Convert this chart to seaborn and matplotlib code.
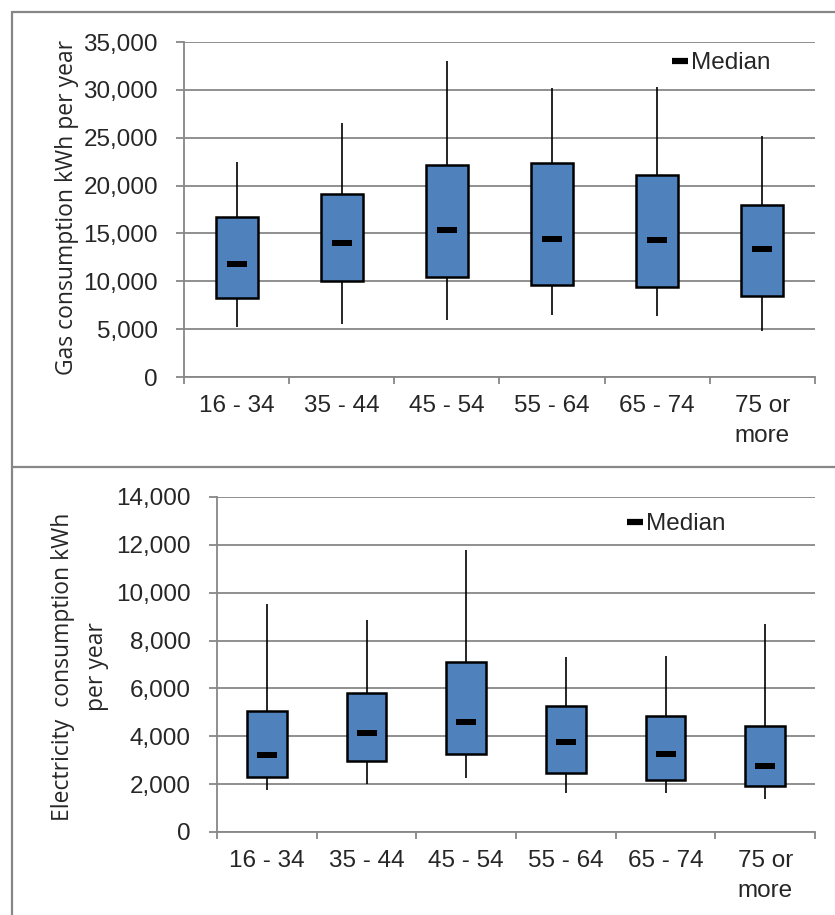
import numpy as np
import pandas as pd
import seaborn as sns
import matplotlib.pyplot as plt
from matplotlib.lines import Line2D
from matplotlib.ticker import StrMethodFormatter, FixedLocator

# Age bands of the household reference person
AGE_GROUPS = ["16 - 34", "35 - 44", "45 - 54", "55 - 64", "65 - 74", "75 or\nmore"]

# Gas consumption (kWh per year): lower whisker, Q1, median, Q3, upper whisker
GAS_LOW = [5200, 5500, 6000, 6500, 6400, 4850]
GAS_Q1 = [8300, 10000, 10450, 9600, 9450, 8500]
GAS_MEDIAN = [11850, 14000, 15400, 14400, 14300, 13400]
GAS_Q3 = [16700, 19100, 22150, 22350, 21100, 18000]
GAS_HIGH = [22500, 26500, 33000, 30200, 30250, 25200]

# Electricity consumption (kWh per year): same five summary points
ELEC_LOW = [1750, 2000, 2250, 1650, 1650, 1370]
ELEC_Q1 = [2300, 2950, 3250, 2470, 2180, 1930]
ELEC_MEDIAN = [3200, 4150, 4580, 3760, 3250, 2750]
ELEC_Q3 = [5070, 5800, 7100, 5250, 4830, 4440]
ELEC_HIGH = [9530, 8850, 11770, 7310, 7340, 8690]

GAS_TICKS = [0, 5000, 10000, 15000, 20000, 25000, 30000, 35000]
ELEC_TICKS = [0, 2000, 4000, 6000, 8000, 10000, 12000, 14000]

BOX_BLUE = "#4F81BD"
AXIS_GREY = "#878787"
W, H = 835, 915
TICK_SIZE = 17.5

sns.set_style("white")
plt.rcParams["font.family"] = ["Liberation Sans", "DejaVu Sans"]


def five_point_frame(low, q1, med, q3, high):
    """Long-form table whose quartiles and extremes equal the given summary."""
    rows = []
    for grp, vals in zip(AGE_GROUPS, zip(low, q1, med, q3, high)):
        for v in vals:
            rows.append({"age": grp, "kwh": v})
    return pd.DataFrame(rows)


def px_axes(fig, left, top, right, bottom):
    return fig.add_axes([left / W, 1 - bottom / H, (right - left) / W, (bottom - top) / H])


def draw_panel(ax, low, q1, med, q3, high, ticks, legend_xy):
    df = five_point_frame(low, q1, med, q3, high)
    sns.boxplot(
        data=df, x="age", y="kwh", order=AGE_GROUPS, ax=ax,
        width=0.4, whis=(0, 100), color=BOX_BLUE, saturation=1,
        linecolor="black", linewidth=1.6, showcaps=False, fliersize=0,
        whiskerprops={"linewidth": 1.2, "color": "black"},
        boxprops={"linewidth": 1.8, "edgecolor": "black", "zorder": 3},
        medianprops={"visible": False},
    )
    # short, heavy median dashes
    dash = [(-1, -0.27), (1, -0.27), (1, 0.27), (-1, 0.27)]
    sns.scatterplot(
        x=np.arange(len(AGE_GROUPS)), y=med, ax=ax, marker=dash,
        s=15 ** 2, color="black", linewidth=0, zorder=5, legend=False,
    )

    ax.set_xlim(-0.5, len(AGE_GROUPS) - 0.5)
    ax.set_ylim(ticks[0], ticks[-1])
    ax.set_yticks(ticks)
    ax.yaxis.set_major_formatter(StrMethodFormatter("{x:,.0f}"))
    ax.set_xticks(np.arange(len(AGE_GROUPS)))
    ax.set_xticklabels(AGE_GROUPS, fontsize=TICK_SIZE, linespacing=1.45)
    ax.xaxis.set_minor_locator(FixedLocator(np.arange(-0.5, len(AGE_GROUPS), 1.0)))
    ax.set_xlabel("")
    ax.set_ylabel("")

    ax.grid(axis="y", color=AXIS_GREY, linewidth=1.3, zorder=0)
    ax.grid(axis="x", visible=False)
    ax.set_axisbelow(True)
    for side in ("top", "right"):
        ax.spines[side].set_visible(False)
    for side in ("left", "bottom"):
        ax.spines[side].set_color(AXIS_GREY)
        ax.spines[side].set_linewidth(1.3)

    ax.tick_params(axis="y", which="major", direction="out", length=5.8, width=1.3,
                   color=AXIS_GREY, pad=13, labelsize=TICK_SIZE, left=True)
    ax.tick_params(axis="x", which="major", length=0, pad=13, labelsize=TICK_SIZE, bottom=True)
    ax.tick_params(axis="x", which="minor", direction="out", length=5, width=1.3,
                   color=AXIS_GREY, bottom=True)

    handle = Line2D([], [], color="black", linewidth=4.5, solid_capstyle="butt")
    ax.legend([handle], ["Median"], loc="center left", bbox_to_anchor=legend_xy,
              frameon=False, fontsize=TICK_SIZE, handlelength=0.65, handletextpad=0.15,
              borderpad=0, borderaxespad=0)


fig = plt.figure(figsize=(W / 100, H / 100), dpi=100)

ax_gas = px_axes(fig, 184, 42, 815, 377)
draw_panel(ax_gas, GAS_LOW, GAS_Q1, GAS_MEDIAN, GAS_Q3, GAS_HIGH, GAS_TICKS,
           ((672 - 184) / 631, (377 - 63) / 335))

ax_elec = px_axes(fig, 217, 497, 815, 832)
draw_panel(ax_elec, ELEC_LOW, ELEC_Q1, ELEC_MEDIAN, ELEC_Q3, ELEC_HIGH, ELEC_TICKS,
           ((627 - 217) / 598, (832 - 524) / 335))

label_font = ["Open Sans", "DejaVu Sans"]
fig.text(67 / W, 1 - 207 / H, "Gas consumption kWh per year", rotation=90,
         ha="center", va="center", fontsize=16.5, family=label_font)
fig.text(80 / W, 1 - 667 / H, "Electricity  consumption kWh\nper year", rotation=90,
         ha="center", va="center", multialignment="center", linespacing=1.55,
         fontsize=16.5, family=label_font)

# grey panel frames
frame_kw = dict(color=AXIS_GREY, linewidth=1.6, transform=fig.transFigure)
fig.add_artist(Line2D([12 / W, 12 / W], [0, 1 - 12 / H], **frame_kw))
fig.add_artist(Line2D([12 / W, 1], [1 - 12 / H, 1 - 12 / H], **frame_kw))
fig.add_artist(Line2D([12 / W, 1], [1 - 467 / H, 1 - 467 / H], **frame_kw))

fig.savefig("out.png", dpi=100, facecolor="white")
